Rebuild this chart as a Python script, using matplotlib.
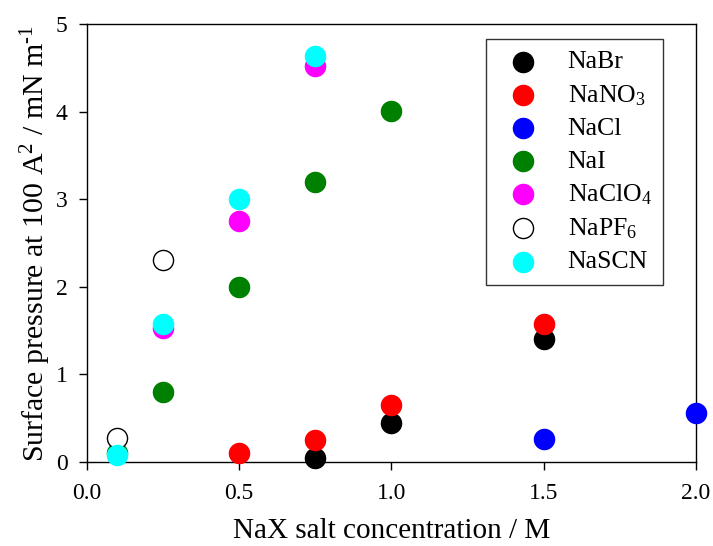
import matplotlib
matplotlib.use("Agg")
import matplotlib.pyplot as plt

plt.rcParams['font.family'] = ['Liberation Serif', 'DejaVu Serif']
plt.rcParams['mathtext.fontset'] = 'custom'
plt.rcParams['mathtext.rm'] = 'Liberation Serif'
plt.rcParams['mathtext.it'] = 'Liberation Serif:italic'

labels = ['NaBr', 'NaNO$_3$', 'NaCl', 'NaI', 'NaClO$_4$', 'NaPF$_6$', 'NaSCN']
colors = ['black', 'red', 'blue', 'green', 'magenta', 'white', 'cyan']
edges = ['black', 'red', 'blue', 'green', 'magenta', 'black', 'cyan']

nabr_x = [0.75, 1.0, 1.5]
nabr_y = [0.05, 0.45, 1.40]
nano3_x = [0.5, 0.75, 1.0, 1.5]
nano3_y = [0.10, 0.25, 0.65, 1.57]
nacl_x = [1.5, 2.0]
nacl_y = [0.26, 0.56]
nai_x = [0.1, 0.25, 0.5, 0.75, 1.0]
nai_y = [0.10, 0.80, 2.00, 3.20, 4.01]
naclo4_x = [0.25, 0.5, 0.75]
naclo4_y = [1.53, 2.75, 4.52]
napf6_x = [0.1, 0.25]
napf6_y = [0.27, 2.30]
nascn_x = [0.1, 0.25, 0.5, 0.75]
nascn_y = [0.08, 1.58, 3.00, 4.63]

xs = [nabr_x, nano3_x, nacl_x, nai_x, naclo4_x, napf6_x, nascn_x]
ys = [nabr_y, nano3_y, nacl_y, nai_y, naclo4_y, napf6_y, nascn_y]

fig = plt.figure(figsize=(7.13, 5.46), dpi=100)
ax = fig.add_axes([0.122, 0.154, 0.854, 0.802])

for x, y, lab, c, e in zip(xs, ys, labels, colors, edges):
    ax.scatter(x, y, s=210, c=c, edgecolors=e, linewidths=1.0, label=lab, zorder=3, clip_on=False)

ax.set_xlim(0, 2.0)
ax.set_ylim(0, 5)
ax.set_xticks([0.0, 0.5, 1.0, 1.5, 2.0])
ax.set_xticklabels(['0.0', '0.5', '1.0', '1.5', '2.0'])
ax.set_yticks([0, 1, 2, 3, 4, 5])
ax.tick_params(axis='both', direction='out', labelsize=17, length=6, width=1)
ax.tick_params(axis='x', pad=9)
ax.tick_params(axis='y', pad=8)
ax.tick_params(top=False, right=False)
for sp in ax.spines.values():
    sp.set_linewidth(1.0)

ax.set_xlabel('NaX salt concentration / M', fontsize=21, labelpad=10)
ax.set_ylabel('Surface pressure at 100 A$^2$ / mN m$^{\\text{-}1}$', fontsize=21.5, labelpad=2)

leg = ax.legend(loc='upper right', bbox_to_anchor=(0.946, 0.966), borderaxespad=0,
                fontsize=18.5, frameon=True, fancybox=False, edgecolor='black',
                borderpad=0.45, labelspacing=0.37, handletextpad=0.72,
                scatterpoints=1, markerscale=1.0)
leg.get_frame().set_linewidth(1.0)

fig.savefig('out.png', dpi=100)
